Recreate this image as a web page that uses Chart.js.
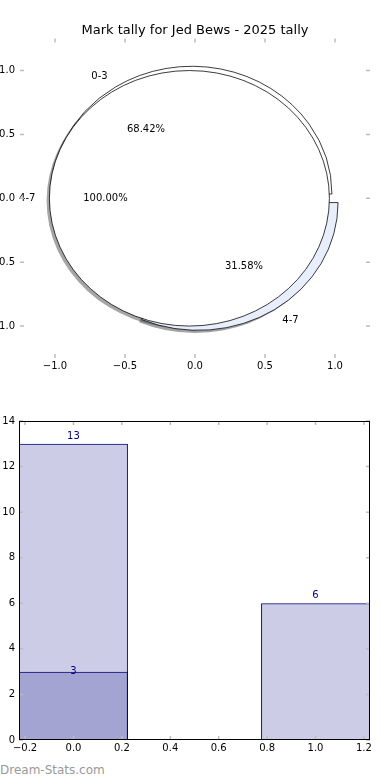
<!DOCTYPE html>
<html>
<head>
<meta charset="utf-8">
<title>Mark tally for Jed Bews - 2025 tally</title>
<script src="https://cdn.jsdelivr.net/npm/chart.js@4.4.1/dist/chart.umd.min.js"></script>
<style>
  html, body { margin: 0; padding: 0; background: #fff; }
  #page { position: relative; width: 390px; height: 780px; overflow: hidden; }
  #pieCanvas { position: absolute; left: 0; top: 0; }
  #barCanvas { position: absolute; left: 0; top: 380px; }
  #credit { position: absolute; left: 0; top: 763px; font: 12px "DejaVu Sans", sans-serif; color: #999; line-height: 14px; }
</style>
</head>
<body>
<div id="page">
  <canvas id="pieCanvas" width="390" height="380"></canvas>
  <canvas id="barCanvas" width="390" height="380"></canvas>
  <div id="credit">Dream-Stats.com</div>
</div>
<script>
// chart text and values
var chartTitle = 'Mark tally for Jed Bews - 2025 tally';

// first pie: all marks split by band
var pieLabels = ['0-3', '4-7'];
var pieCounts = [13, 6];
// second pie, drawn over the first one
var pie2Labels = ['4-7'];
var pie2Counts = [3];
var pieTicks = [-1, -0.5, 0, 0.5, 1];

// bar chart
var barX = [0, 1];
var barCounts = [13, 6];
var bar2X = [0];
var bar2Counts = [3];
var barXTicks = [-0.2, 0, 0.2, 0.4, 0.6, 0.8, 1, 1.2];
var barYTicks = [0, 2, 4, 6, 8, 10, 12, 14];

// styles
var EXPLODE = 0.04;   // slice offset, in pie radius units
var SHADOW = 0.02;    // shadow shift, in pie radius units
var BAR_WIDTH = 0.45; // in x units
var NAVY = '#000080';
var BAR_FILL = 'rgba(0, 0, 128, 0.2)';
var TICK_GREY = '#bdbdbd';

Chart.defaults.font.family = '"DejaVu Sans", sans-serif';
Chart.defaults.font.size = 10;
Chart.defaults.color = '#000';

// tick text like matplotlib: 0.0, 0.5, minus sign
function fmtTick(v) {
  var s = Math.abs(v) < 1e-9 ? '0.0' : v.toFixed(1);
  return s.replace('-', '\u2212');
}

// small grey ticks pointing inwards on all four sides
var innerTicks = {
  id: 'innerTicks',
  afterDraw: function (chart) {
    var ctx = chart.ctx, a = chart.chartArea;
    var xs = chart.scales.x, ys = chart.scales.y;
    ctx.save();
    ctx.strokeStyle = TICK_GREY;
    ctx.lineWidth = 1.5;
    ctx.beginPath();
    xs.ticks.forEach(function (t) {
      var px = xs.getPixelForValue(t.value);
      ctx.moveTo(px, a.top); ctx.lineTo(px, a.top + 4);
      ctx.moveTo(px, a.bottom); ctx.lineTo(px, a.bottom - 4);
    });
    ys.ticks.forEach(function (t) {
      var py = ys.getPixelForValue(t.value);
      ctx.moveTo(a.left, py); ctx.lineTo(a.left + 4, py);
      ctx.moveTo(a.right, py); ctx.lineTo(a.right - 4, py);
    });
    ctx.stroke();
    ctx.restore();
  }
};

// black box round the bar plot
var frame = {
  id: 'frame',
  afterDraw: function (chart) {
    var ctx = chart.ctx, a = chart.chartArea;
    ctx.save();
    ctx.strokeStyle = '#000';
    ctx.lineWidth = 1;
    ctx.strokeRect(Math.round(a.left) + 0.5, Math.round(a.top) + 0.5,
      Math.round(a.right - a.left) - 1, Math.round(a.bottom - a.top) - 1);
    ctx.restore();
  }
};

// pie geometry in data units (axes are not equal, so the pies are ellipses)
function pieFrame(chart) {
  var xs = chart.scales.x, ys = chart.scales.y;
  var cx = xs.getPixelForValue(0), cy = ys.getPixelForValue(0);
  return { cx: cx, cy: cy, rx: xs.getPixelForValue(1) - cx, ry: cy - ys.getPixelForValue(1) };
}

function squash(ctx, f) {
  ctx.translate(f.cx, f.cy);
  ctx.scale(1, f.ry / f.rx);
  ctx.translate(-f.cx, -f.cy);
}

function shadeOf(hex) {
  var n = parseInt(hex.slice(1), 16);
  var r = Math.round(0.3 * (n >> 16)), g = Math.round(0.3 * ((n >> 8) & 255)), b = Math.round(0.3 * (n & 255));
  return 'rgba(' + r + ',' + g + ',' + b + ',0.5)';
}

var pieLayout = {
  id: 'pieLayout',
  afterDatasetsUpdate: function (chart) {
    var f = pieFrame(chart);
    chart.data.datasets.forEach(function (ds, d) {
      chart.getDatasetMeta(d).data.forEach(function (arc) {
        var mid = (arc.startAngle + arc.endAngle) / 2;
        arc.x = f.cx + EXPLODE * f.rx * Math.cos(mid);
        arc.y = f.cy + EXPLODE * f.rx * Math.sin(mid);
        arc.innerRadius = 0;
        arc.outerRadius = f.rx;
      });
    });
  },
  beforeDatasetsDraw: function (chart) {
    // all shadows go under all slices
    var f = pieFrame(chart), ctx = chart.ctx;
    chart.data.datasets.forEach(function (ds, d) {
      chart.getDatasetMeta(d).data.forEach(function (arc, i) {
        ctx.save();
        ctx.translate(-SHADOW * f.rx, SHADOW * f.ry);
        squash(ctx, f);
        ctx.beginPath();
        ctx.moveTo(arc.x, arc.y);
        ctx.arc(arc.x, arc.y, arc.outerRadius, arc.startAngle, arc.endAngle);
        ctx.closePath();
        ctx.fillStyle = shadeOf(ds.backgroundColor[i]);
        ctx.fill();
        ctx.restore();
      });
    });
  },
  beforeDatasetDraw: function (chart) {
    var ctx = chart.ctx;
    ctx.save();
    squash(ctx, pieFrame(chart));
  },
  afterDatasetDraw: function (chart, args) {
    var ctx = chart.ctx;
    var ds = chart.data.datasets[args.index];
    if (ds.data.length === 1) {
      // a full pie has no radius line
      var arc = args.meta.data[0];
      ctx.beginPath();
      ctx.arc(arc.x, arc.y, arc.outerRadius, 0, Math.PI * 2);
      ctx.lineWidth = 0.8;
      ctx.strokeStyle = '#000';
      ctx.stroke();
    }
    ctx.restore();
  },
  afterDatasetsDraw: function (chart) {
    var f = pieFrame(chart), ctx = chart.ctx;
    ctx.save();
    ctx.font = '10px "DejaVu Sans"';
    ctx.fillStyle = '#000';
    ctx.textBaseline = 'middle';
    chart.data.datasets.forEach(function (ds, d) {
      var total = ds.data.reduce(function (a, b) { return a + b; }, 0);
      chart.getDatasetMeta(d).data.forEach(function (arc, i) {
        var mid = (arc.startAngle + arc.endAngle) / 2;
        var c = Math.cos(mid), s = Math.sin(mid);
        var lx = f.cx + (EXPLODE + 1.1) * f.rx * c;
        var ly = f.cy + (EXPLODE + 1.1) * f.ry * s;
        ctx.textAlign = lx > f.cx ? 'left' : 'right';
        ctx.fillText(ds.bandNames[i], lx, ly);
        ctx.textAlign = 'center';
        ctx.fillText((ds.data[i] / total * 100).toFixed(2) + '%',
          f.cx + (EXPLODE + 0.6) * f.rx * c, f.cy + (EXPLODE + 0.6) * f.ry * s);
      });
    });
    ctx.restore();
  }
};

// value above each bar
var barValues = {
  id: 'barValues',
  afterDatasetsDraw: function (chart) {
    var ctx = chart.ctx;
    ctx.save();
    ctx.font = '10px "DejaVu Sans"';
    ctx.fillStyle = NAVY;
    ctx.textAlign = 'center';
    ctx.textBaseline = 'alphabetic';
    chart.data.datasets.forEach(function (ds, d) {
      chart.getDatasetMeta(d).data.forEach(function (bar, i) {
        ctx.fillText(String(ds.data[i].y), bar.x, bar.y - ds.labelLift);
      });
    });
    ctx.restore();
  }
};

function axisOpts(min, max, ticks, position, fmt, padding, fit) {
  return {
    type: 'linear',
    position: position,
    min: min,
    max: max,
    offset: false,
    grid: { display: false, drawTicks: false },
    border: { display: false },
    afterBuildTicks: function (s) {
      s.ticks = ticks.map(function (v) { return { value: v }; });
    },
    ticks: { autoSkip: false, maxRotation: 0, padding: padding, font: { size: 10 }, color: '#000', callback: fmt },
    afterFit: fit
  };
}

// empty right axis, only keeps the title centred on the page
var spacerAxis = {
  type: 'linear',
  position: 'right',
  min: -1.25,
  max: 1.25,
  grid: { display: false, drawTicks: false },
  border: { display: false },
  ticks: { display: false },
  afterFit: function (s) { s.width = 20; }
};

// pie chart with matplotlib style axes round it
// chart.js goes clockwise from 3 o'clock, matplotlib goes the other way, so reverse
var pieChart = new Chart(document.getElementById('pieCanvas'), {
  type: 'pie',
  data: {
    datasets: [
      {
        data: pie2Counts.slice().reverse(),
        bandNames: pie2Labels.slice().reverse(),
        backgroundColor: ['#ffffff'],
        borderWidth: 0,
        rotation: 90,
        clip: false
      },
      {
        data: pieCounts.slice().reverse(),
        bandNames: pieLabels.slice().reverse(),
        backgroundColor: ['#e9eefc', '#ffffff'],
        borderColor: '#000',
        borderWidth: 0.8,
        rotation: 90,
        clip: false
      }
    ]
  },
  options: {
    responsive: false,
    animation: false,
    devicePixelRatio: 1,
    events: [],
    rotation: 90,
    layout: { padding: 0 },
    scales: {
      x: axisOpts(-1.25, 1.25, pieTicks, 'bottom', fmtTick, 2, function (s) { s.height = 22; }),
      y: axisOpts(-1.25, 1.25, pieTicks, 'left', fmtTick, 5, function (s) { s.width = 20; }),
      yRight: spacerAxis
    },
    plugins: {
      legend: { display: false },
      tooltip: { enabled: false },
      colors: { enabled: false },
      title: {
        display: true,
        text: chartTitle,
        color: '#000',
        font: { size: 13, weight: 'normal' },
        padding: { top: 23, bottom: 0 }
      }
    }
  },
  plugins: [pieLayout, innerTicks]
});

// bars sit on a linear x axis; chart.js sizes them from the tick gap, so scale by that
var barStep = barXTicks[1] - barXTicks[0];
var barStyle = {
  grouped: false,
  barPercentage: BAR_WIDTH / barStep,
  categoryPercentage: 1,
  backgroundColor: BAR_FILL,
  borderColor: NAVY,
  borderWidth: 1,
  borderSkipped: false
};

var barChart = new Chart(document.getElementById('barCanvas'), {
  type: 'bar',
  data: {
    datasets: [
      Object.assign({ data: barX.map(function (x, i) { return { x: x, y: barCounts[i] }; }), labelLift: 5 }, barStyle),
      Object.assign({ data: bar2X.map(function (x, i) { return { x: x, y: bar2Counts[i] }; }), labelLift: -2 }, barStyle)
    ]
  },
  options: {
    responsive: false,
    animation: false,
    devicePixelRatio: 1,
    events: [],
    layout: { padding: { top: 41, right: 20, bottom: 0, left: 0 } },
    scales: {
      x: axisOpts(-0.225, 1.225, barXTicks, 'bottom', fmtTick, 2, function (s) { s.height = 20; }),
      y: axisOpts(0, 14, barYTicks, 'left', function (v) { return String(v); }, 4, function (s) { s.width = 19; })
    },
    plugins: {
      legend: { display: false },
      tooltip: { enabled: false },
      colors: { enabled: false }
    }
  },
  plugins: [barValues, innerTicks, frame]
});
</script>
</body>
</html>
